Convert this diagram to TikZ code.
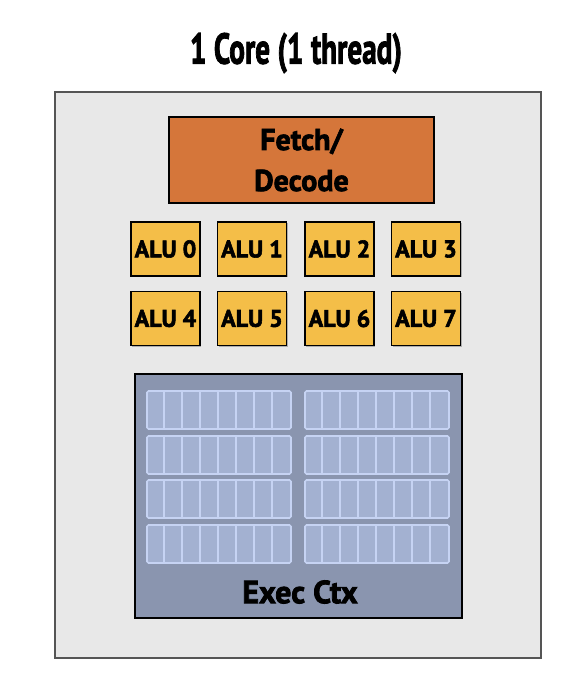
\documentclass[tikz,border=0pt]{standalone}
\usepackage{fontspec}
\setmainfont{PT Sans}
\newfontfamily\heavyfont{PT Sans}[BoldFeatures={FakeBold=2.4}]
\usetikzlibrary{shadows,calc}
\definecolor{coreFill}{HTML}{E8E8E8}
\definecolor{coreLine}{HTML}{555555}
\definecolor{fetchFill}{HTML}{D5763A}
\definecolor{aluFill}{HTML}{F4BE48}
\definecolor{ctxFill}{HTML}{8A95AF}
\definecolor{regFill}{HTML}{A3B1D1}
\definecolor{regLine}{HTML}{C6D3F3}
\tikzset{
  coreBox/.style={draw=coreLine, line width=2pt, fill=coreFill, inner sep=0, minimum width=486, minimum height=566},
  unitShadow/.style={drop shadow={shadow xshift=1.2pt, shadow yshift=-1.2pt, opacity=0.25, fill=black}},
  fetchBox/.style={draw=black, line width=1.8pt, fill=fetchFill, inner sep=0, minimum width=265, minimum height=86, align=center, font=\heavyfont\bfseries\fontsize{30}{41}\selectfont, unitShadow},
  aluBox/.style={draw=black, line width=1.8pt, fill=aluFill, inner sep=0, minimum width=69, minimum height=54, font=\heavyfont\bfseries\fontsize{24}{24}\selectfont, unitShadow},
  ctxBox/.style={draw=black, line width=1.8pt, fill=ctxFill, inner sep=0, minimum width=327, minimum height=244, unitShadow},
  regGroup/.style={draw=regLine, line width=1.6pt, fill=regFill, rounded corners=1.5pt, inner sep=0, minimum width=144, minimum height=38},
  regDiv/.style={draw=regLine, line width=1.6pt},
  titleText/.style={font=\heavyfont\bfseries\fontsize{43}{43}\selectfont},
  ctxText/.style={font=\heavyfont\bfseries\fontsize{32}{32}\selectfont}
}
\begin{document}
\begin{tikzpicture}[x=1pt,y=-1pt]
\useasboundingbox[fill=white] (0,0) rectangle (562,686);
\node[titleText] (title) at (296,53) {\scalebox{0.68}[1]{1 Core (1 thread)}};
\node[coreBox] (core) at (298,375) {};
\node[fetchBox] (fetch) at (301.5,160) {Fetch/\\Decode};
\foreach \i/\x/\y in {0/165.5/249,1/252/249,2/339.5/249,3/426/249,4/165.5/318.5,5/252/318.5,6/339.5/318.5,7/426/318.5}{
  \node[aluBox] (alu\i) at (\x,\y) {ALU \i};
}
\node[ctxBox] (ctx) at (298.5,496) {};
\foreach \r/\y in {1/410,2/455,3/499,4/544}{
  \foreach \c/\x in {1/219,2/377}{
    \node[regGroup] (reg\r\c) at (\x,\y) {};
    \foreach \k in {1,...,7}{
      \draw[regDiv] ($(reg\r\c.north west)+(\k*18,0)$) -- ($(reg\r\c.south west)+(\k*18,0)$);
    }
  }
}
\node[ctxText] (ctxlabel) at (300,592) {Exec Ctx};
\end{tikzpicture}
\end{document}
